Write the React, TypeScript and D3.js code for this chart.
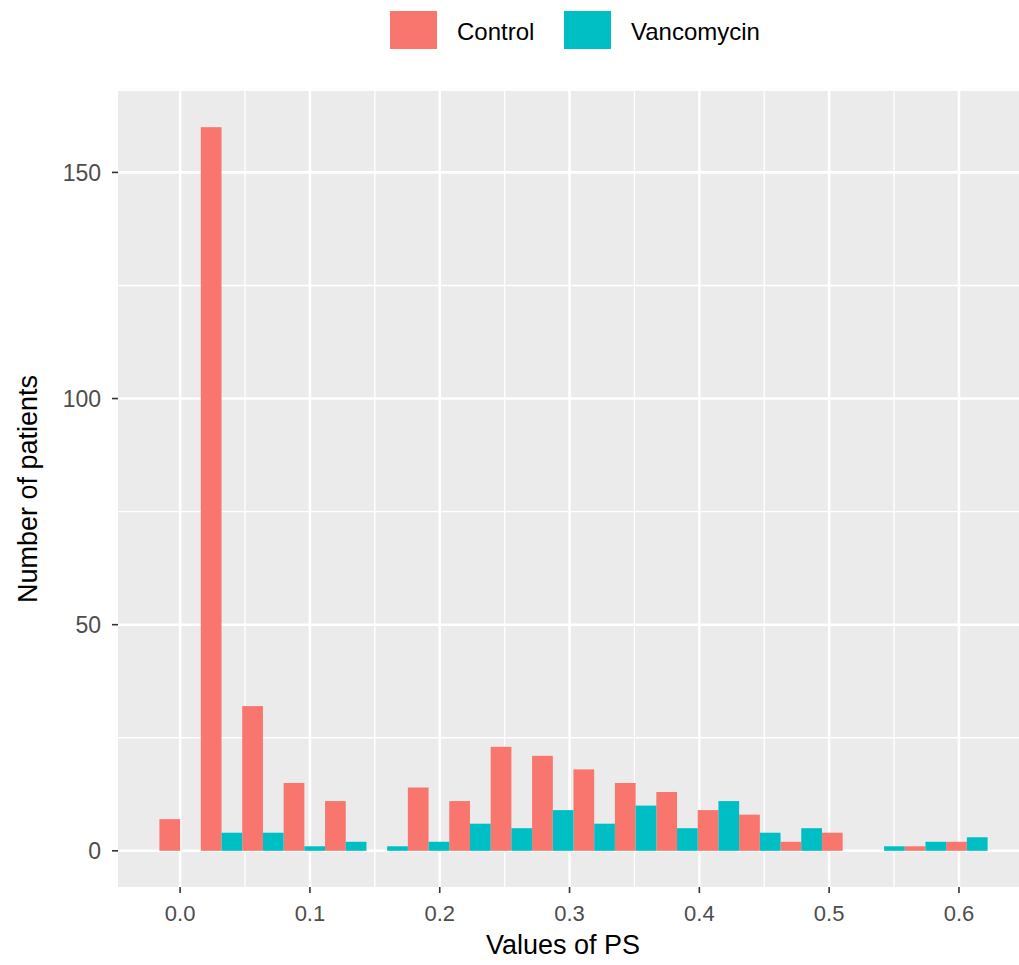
import React from 'react';
import * as d3 from 'd3';

// histogram bins (centre of each bin, PS value)
const binMids = [0, 0.0319, 0.0638, 0.0957, 0.1276, 0.1595, 0.1914, 0.2233, 0.2552, 0.2871, 0.319, 0.3509, 0.3828, 0.4147, 0.4466, 0.4785, 0.5104, 0.5423, 0.5742, 0.6061];
const binWidth = 0.0319;
const controlCounts = [7, 160, 32, 15, 11, 0, 14, 11, 23, 21, 18, 15, 13, 9, 8, 2, 4, 0, 1, 2];
const vancoCounts = [0, 4, 4, 1, 2, 1, 2, 6, 5, 9, 6, 10, 5, 11, 4, 5, 0, 1, 2, 3];

const groups = ['Control', 'Vancomycin'];
const colors = ['#F8766D', '#00BFC4'];

const xTicks = [0, 0.1, 0.2, 0.3, 0.4, 0.5, 0.6];
const xMinor = [0.05, 0.15, 0.25, 0.35, 0.45, 0.55, 0.65];
const yTicks = [0, 50, 100, 150];
const yMinor = [25, 75, 125];

const font = '"Liberation Sans", Arial, sans-serif';

export default function App() {
	// panel measurements
	const left = 118;
	const right = 1029;
	const top = 91;
	const bottom = 887;

	const xMin = binMids[0] - binWidth / 2;
	const xMax = binMids[binMids.length - 1] + binWidth / 2;
	const xPad = (xMax - xMin) * 0.05;
	const yMax = d3.max([...controlCounts, ...vancoCounts]) as number;

	const x = d3.scaleLinear().domain([xMin - xPad, xMax + xPad]).range([left, right]);
	const y = d3.scaleLinear().domain([-yMax * 0.05, yMax * 1.05]).range([bottom, top]);

	const series = [controlCounts, vancoCounts];

	return (
		<svg
			width={1019}
			height={965}
			style={{ position: 'absolute', left: 0, top: 0, background: '#fff' }}
			fontFamily={font}
		>
			{/* panel */}
			<rect x={left} y={top} width={right - left} height={bottom - top} fill="#EBEBEB" />

			{/* grid */}
			{yMinor.map((v) => (
				<line key={'ym' + v} x1={left} x2={right} y1={y(v)} y2={y(v)} stroke="#fff" strokeWidth={1.3} />
			))}
			{xMinor.map((v) => (
				<line key={'xm' + v} x1={x(v)} x2={x(v)} y1={top} y2={bottom} stroke="#fff" strokeWidth={1.3} />
			))}
			{yTicks.map((v) => (
				<line key={'y' + v} x1={left} x2={right} y1={y(v)} y2={y(v)} stroke="#fff" strokeWidth={2.6} />
			))}
			{xTicks.map((v) => (
				<line key={'x' + v} x1={x(v)} x2={x(v)} y1={top} y2={bottom} stroke="#fff" strokeWidth={2.6} />
			))}

			{/* bars, dodged */}
			{series.map((counts, g) =>
				binMids.map((m, i) => {
					const x0 = x(m - binWidth / 2 + (g * binWidth) / 2);
					const x1 = x(m + (g * binWidth) / 2);
					return (
						<rect
							key={g + '-' + i}
							x={x0}
							y={y(counts[i])}
							width={x1 - x0}
							height={y(0) - y(counts[i])}
							fill={colors[g]}
						/>
					);
				})
			)}

			{/* y axis */}
			{yTicks.map((v) => (
				<g key={'yt' + v}>
					<line x1={left - 6} x2={left} y1={y(v)} y2={y(v)} stroke="#333" strokeWidth={1.6} />
					<text x={left - 17} y={y(v)} dy="0.36em" textAnchor="end" fontSize={23} fill="#4D4D4D">
						{v}
					</text>
				</g>
			))}

			{/* x axis */}
			{xTicks.map((v) => (
				<g key={'xt' + v}>
					<line x1={x(v)} x2={x(v)} y1={bottom} y2={bottom + 6} stroke="#333" strokeWidth={1.6} />
					<text x={x(v)} y={921} textAnchor="middle" fontSize={22} fill="#4D4D4D">
						{v.toFixed(1)}
					</text>
				</g>
			))}

			{/* titles */}
			<text x={563} y={954} textAnchor="middle" fontSize={27} fill="#000">
				Values of PS
			</text>
			<text
				transform={`translate(37, ${(top + bottom) / 2}) rotate(-90)`}
				textAnchor="middle"
				fontSize={27}
				fill="#000"
			>
				Number of patients
			</text>

			{/* legend */}
			{groups.map((name, i) => {
				const kx = [390, 564][i];
				return (
					<g key={name}>
						<rect x={kx} y={11} width={47} height={38} fill={colors[i]} />
						<text x={kx + 67} y={31} dy="0.36em" fontSize={24} fill="#000">
							{name}
						</text>
					</g>
				);
			})}
		</svg>
	);
}
